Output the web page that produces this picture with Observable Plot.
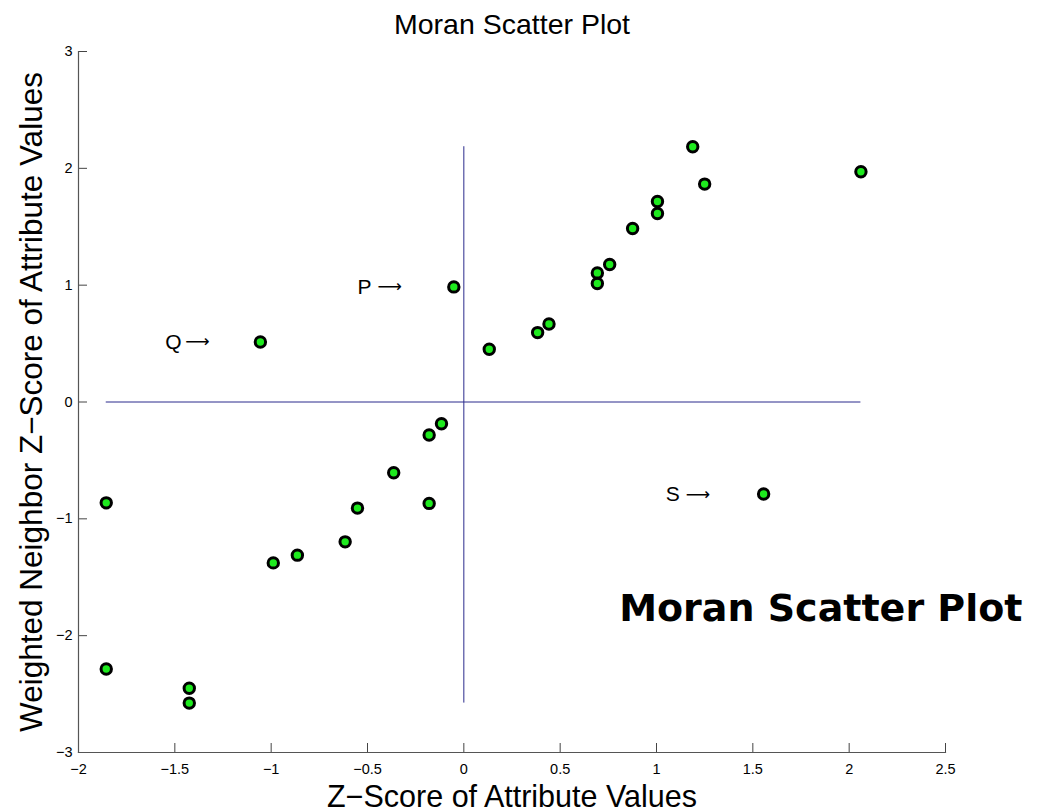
<!DOCTYPE html>
<html>
<head>
<meta charset="utf-8">
<script src="https://cdn.jsdelivr.net/npm/d3@7"></script>
<script src="https://cdn.jsdelivr.net/npm/@observablehq/plot@0.6"></script>
<style>
  html, body { margin: 0; padding: 0; background: #fff; }
  #chart svg { display: block; font-family: "Liberation Sans", Arial, sans-serif; }
</style>
</head>
<body>
<div id="chart"></div>
<script>
// Data
const zScore = [
  -1.856, -1.856, -1.425, -1.425, -0.989, -0.864, -0.616, -0.552, -0.364, -0.180, -0.180, -0.116,
  0.132, 0.383, 0.442, 0.693, 0.693, 0.757, 0.876, 1.005, 1.005, 1.188, 1.250, 2.061,
  -0.052, -1.056, 1.556
];
const lagZScore = [
  -0.863, -2.285, -2.450, -2.577, -1.377, -1.311, -1.197, -0.908, -0.606, -0.868, -0.283, -0.186,
  0.452, 0.594, 0.668, 1.014, 1.105, 1.177, 1.485, 1.614, 1.716, 2.185, 1.865, 1.971,
  0.985, 0.514, -0.788
];
const annotLetters = ["P", "Q", "S"];
const annotArrow = "\u27F6";
const annotX = [-0.552, -1.550, 1.048];
const annotY = [0.985, 0.514, -0.788];
const xTicks = [-2, -1.5, -1, -0.5, 0, 0.5, 1, 1.5, 2, 2.5];
const yTicks = [-3, -2, -1, 0, 1, 2, 3];
const titleText = "Moran Scatter Plot";
const xLabel = "Z\u2212Score of Attribute Values";
const yLabel = "Weighted Neighbor Z\u2212Score of Attribute Values";
const overlayText = "Moran Scatter Plot";

const points = zScore.map((x, i) => ({x, y: lagZScore[i]}));
const annots = annotLetters.map((t, i) => ({t, a: annotArrow, x: annotX[i], y: annotY[i]}));
const xMin = d3.min(zScore), xMax = d3.max(zScore);
const yMin = d3.min(lagZScore), yMax = d3.max(lagZScore);
const fmt = d => String(d).replace("-", "\u2212");

const W = 1043, H = 812;
const mL = 78, mR = 98, mT = 51, mB = 60;
const frameW = W - mL - mR, frameH = H - mT - mB;

const chart = Plot.plot({
  width: W,
  height: H,
  marginLeft: mL,
  marginRight: mR,
  marginTop: mT,
  marginBottom: mB,
  style: {fontFamily: "'Liberation Sans', Arial, sans-serif", background: "#fff"},
  x: {domain: [-2, 2.5]},
  y: {domain: [-3, 3]},
  marks: [
    Plot.axisX(xTicks, {tickSize: 0, tickPadding: 11, fontSize: 14.5, label: null, color: "#000", tickFormat: fmt}),
    Plot.axisY(yTicks, {tickSize: 0, tickPadding: 6, fontSize: 14.5, label: null, color: "#000", tickFormat: fmt}),
    // inward ticks
    Plot.tickX(xTicks, {x: d => d, insetTop: frameH - 9, stroke: "#444", strokeWidth: 1}),
    Plot.tickY(yTicks, {y: d => d, insetRight: frameW - 9, stroke: "#444", strokeWidth: 1}),
    Plot.frame({anchor: "left", stroke: "#555", strokeWidth: 1.2}),
    Plot.frame({anchor: "bottom", stroke: "#555", strokeWidth: 1.2}),
    // quadrant lines spanning data extent
    Plot.ruleY([0], {x1: xMin, x2: xMax, stroke: "#2b2b8c", strokeWidth: 1}),
    Plot.ruleX([0], {y1: yMin, y2: yMax, stroke: "#2b2b8c", strokeWidth: 1}),
    Plot.dot(points, {x: "x", y: "y", r: 5.2, fill: "#1eea1e", stroke: "#000", strokeWidth: 3}),
    Plot.text(annots, {x: "x", y: "y", text: "t", fontSize: 21, textAnchor: "start", fill: "#000"}),
    Plot.text(annots, {x: "x", y: "y", text: "a", dx: 20, fontSize: 17, textAnchor: "start", fill: "#000", fontFamily: "'DejaVu Sans', sans-serif"}),
    // title and axis labels
    Plot.text([titleText], {frameAnchor: "top", dy: -27, fontSize: 28.5, fill: "#000", lineAnchor: "middle"}),
    Plot.text([xLabel], {frameAnchor: "bottom", dy: 45, fontSize: 30.5, fill: "#000", lineAnchor: "middle"}),
    Plot.text([yLabel], {frameAnchor: "left", dx: -47, rotate: -90, textAnchor: "middle", fontSize: 31.5, fill: "#000", lineAnchor: "middle"}),
    Plot.text([overlayText], {frameAnchor: "bottom-right", dx: 77, dy: -144, fontSize: 38, fontWeight: "bold", textAnchor: "end", fill: "#000", fontFamily: "'DejaVu Sans', Verdana, sans-serif", lineAnchor: "middle"})
  ]
});
document.getElementById("chart").appendChild(chart);
</script>
</body>
</html>
